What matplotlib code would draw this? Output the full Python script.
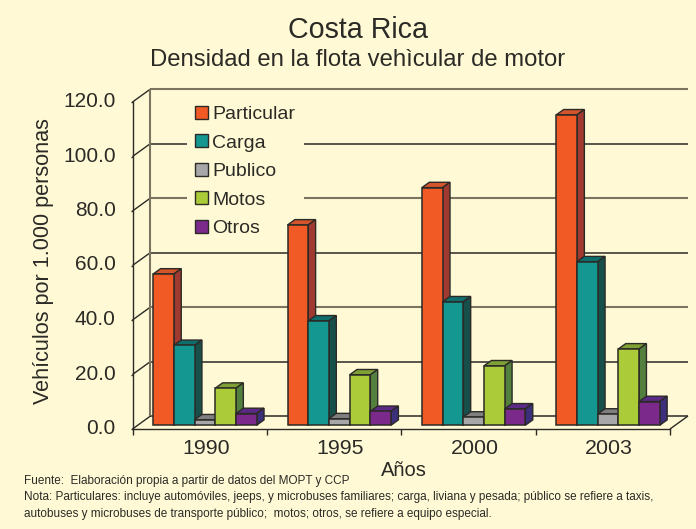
import matplotlib
matplotlib.use("Agg")
import matplotlib.pyplot as plt
from matplotlib.patches import Patch, Polygon
from matplotlib.transforms import ScaledTranslation

plt.rcParams['font.family'] = ['Liberation Sans', 'DejaVu Sans']

years = ['1990', '1995', '2000', '2003']
series = ['Particular', 'Carga', 'Publico', 'Motos', 'Otros']
particular = [55.5, 73.5, 87.2, 113.9]
carga = [29.3, 38.3, 45.3, 60.0]
publico = [2.0, 2.4, 3.0, 4.1]
motos = [13.6, 18.5, 21.8, 28.0]
otros = [4.3, 5.1, 6.0, 8.7]
yticks = [0, 20, 40, 60, 80, 100, 120]

front = ['#F15A24', '#149691', '#A7A7A9', '#ACCB38', '#7B2A8C']
top = ['#D4552C', '#0F6E6C', '#7F7F7F', '#7FA035', '#5B2A86']
side = ['#A03A30', '#174F4B', '#55575A', '#54803F', '#3C2F7B']
BG = '#FFFAD5'
INK = '#2B2A26'
GREY = '#7A7460'

fig = plt.figure(figsize=(6.96, 5.29), dpi=100, facecolor=BG)
ax = fig.add_axes([132.5/696, 100/529, 537.5/696, 327/529])
ax.set_facecolor('none')
ax.set_xlim(-0.5, 3.5)
ax.set_ylim(0, 120)

# depth vector of the pseudo-3D box, in data units
DX = 18 / 134.4
DY = 13 / 2.725
def P(x, y, d):
    return (x + d*DX, y + d*DY)

# back wall and floor
kw = dict(clip_on=False, solid_capstyle='butt')
for i, v in enumerate(yticks):
    c, lw = (GREY, 1.5) if i in (2, 4, 6) else (INK, 1.1)
    a, b = P(-0.5, v, 1), P(3.5, v, 1)
    ax.plot([a[0], b[0]], [a[1], b[1]], color=c, lw=lw, zorder=1, **kw)
    a0 = P(-0.5, v, 0)
    ax.plot([a0[0], a[0]], [a0[1], a[1]], color=INK, lw=1.0, zorder=1, **kw)
a, b = P(-0.5, 0, 1), P(-0.5, 120, 1)
ax.plot([a[0], b[0]], [a[1], b[1]], color=GREY, lw=1.5, zorder=1, **kw)
a, b = P(3.5, 0, 0), P(3.5, 0, 1)
ax.plot([a[0], b[0]], [a[1], b[1]], color=INK, lw=1.0, zorder=1, **kw)

# bars
values = [particular, carga, publico, motos, otros]
W = 0.154
D0, D1 = 0.29, 0.70
for s, vals in enumerate(values):
    for g, v in enumerate(vals):
        x0 = g + (s - 2.5) * W
        z = 3 + s*0.1 + g
        fx, fy = P(x0, 0, D0)
        ax.bar(fx, v, W, bottom=fy, align='edge', color=front[s],
               edgecolor=INK, linewidth=1.1, zorder=z + 0.02, clip_on=False)
        tp = [P(x0, v, D0), P(x0 + W, v, D0), P(x0 + W, v, D1), P(x0, v, D1)]
        sd = [P(x0 + W, 0, D0), P(x0 + W, v, D0), P(x0 + W, v, D1), P(x0 + W, 0, D1)]
        ax.add_patch(Polygon(tp, facecolor=top[s], edgecolor=INK, lw=1.0, zorder=z, clip_on=False))
        ax.add_patch(Polygon(sd, facecolor=side[s], edgecolor=INK, lw=1.0, zorder=z, clip_on=False))

# axes
for sp in ('top', 'right'):
    ax.spines[sp].set_visible(False)
for sp in ('left', 'bottom'):
    ax.spines[sp].set_color(INK)
    ax.spines[sp].set_linewidth(1.0)
    ax.spines[sp].set_zorder(20)
ax.set_yticks(yticks)
ax.set_yticklabels([f'{v:.1f}' for v in yticks], fontsize=15.0, color=INK)
ax.tick_params(axis='y', length=1.5, width=1, color=INK, pad=10.5)
lift = ScaledTranslation(0, 1.8/72, fig.dpi_scale_trans)
for lab in ax.get_yticklabels():
    lab.set_transform(lab.get_transform() + lift)
ax.set_xticks([-0.5, 0.5, 1.5, 2.5, 3.5])
ax.set_xticklabels([])
ax.tick_params(axis='x', which='major', length=4.5, width=1, color=INK)
ax.set_xticks([i + 0.045 for i in range(4)], minor=True)
ax.set_xticklabels(years, minor=True, fontsize=15.4, color=INK)
ax.tick_params(axis='x', which='minor', length=0, pad=7)

# legend
handles = [Patch(facecolor=front[i], edgecolor=INK, linewidth=1.0) for i in range(5)]
leg = ax.legend(handles, series, loc='upper left', bbox_to_anchor=(187/696, 1-97.5/529),
                bbox_transform=fig.transFigure, fontsize=14.0, frameon=True, fancybox=False,
                facecolor=BG, edgecolor='none', framealpha=1, borderpad=0.42, borderaxespad=0,
                handlelength=0.67, handleheight=0.67, handletextpad=0.22, labelspacing=0.57,
                labelcolor=INK)
leg.set_zorder(2)

# texts
fig.text(358/696, 1-29.5/529, 'Costa Rica', ha='center', va='center', fontsize=20.6, color=INK)
fig.text(358/696, 1-60.5/529, 'Densidad en la flota vehìcular de motor', ha='center', va='center',
         fontsize=17.2, color=INK)
fig.text(44/696, 1-261/529, 'Vehículos por 1.000 personas', rotation=90, ha='center', va='center',
         fontsize=15.6, color=INK)
fig.text(404/696, 1-470/529, 'Años', ha='center', va='center', fontsize=14.5, color=INK)
notes = ['Fuente:  Elaboración propia a partir de datos del MOPT y CCP',
         'Nota: Particulares: incluye automóviles, jeeps, y microbuses familiares; carga, liviana y pesada; público se refiere a taxis,',
         'autobuses y microbuses de transporte público;  motos; otros, se refiere a equipo especial.']
for line, y in zip(notes, [481, 497, 514]):
    fig.text(24/696, 1-y/529, line, ha='left', va='center', fontsize=8.5, color=INK)

fig.savefig('out.png', dpi=100, facecolor=BG)
